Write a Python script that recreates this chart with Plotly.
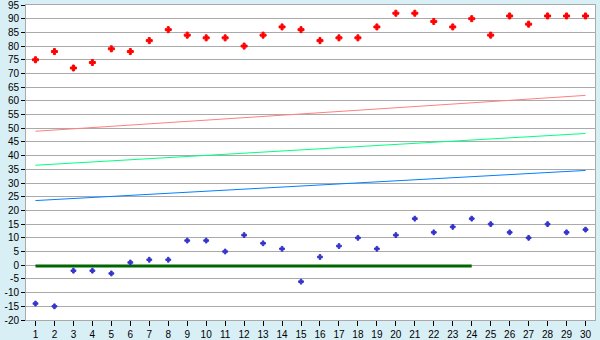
import plotly.graph_objects as go

x = list(range(1, 31))
red_vals = [75, 78, 72, 74, 79, 78, 82, 86, 84, 83, 83, 80, 84, 87, 86,
            82, 83, 83, 87, 92, 92, 89, 87, 90, 84, 91, 88, 91, 91, 91]
blue_vals = [-14, -15, -2, -2, -3, 1, 2, 2, 9, 9, 5, 11, 8, 6, -6,
             3, 7, 10, 6, 11, 17, 12, 14, 17, 15, 12, 10, 15, 12, 13]
red_trend_x = [1, 30]
red_trend = [48.9, 62.0]
green_trend_x = [1, 30]
green_trend = [36.5, 48.1]
blue_trend_x = [1, 30]
blue_trend = [23.6, 34.6]
zero_x = [1, 24]
zero_line = [-0.3, -0.3]
y_ticks = list(range(-20, 96, 5))

fig = go.Figure()
fig.add_trace(go.Scatter(x=red_trend_x, y=red_trend, mode="lines",
                         line=dict(color="#ff8080", width=1), showlegend=False))
fig.add_trace(go.Scatter(x=green_trend_x, y=green_trend, mode="lines",
                         line=dict(color="#00ff80", width=1), showlegend=False))
fig.add_trace(go.Scatter(x=blue_trend_x, y=blue_trend, mode="lines",
                         line=dict(color="#0080ff", width=1), showlegend=False))
fig.add_trace(go.Scatter(x=zero_x, y=zero_line, mode="lines",
                         line=dict(color="#006600", width=3), showlegend=False))
fig.add_trace(go.Scatter(x=x, y=red_vals, mode="markers",
                         marker=dict(symbol="cross", size=5, color="#ff0000",
                                     line=dict(width=1, color="#ff0000")),
                         showlegend=False))
fig.add_trace(go.Scatter(x=x, y=blue_vals, mode="markers",
                         marker=dict(symbol="cross", size=4, color="#3333cc",
                                     line=dict(width=1, color="#3333cc")),
                         showlegend=False))

fig.update_layout(
    template="none",
    width=600, height=340,
    margin=dict(l=26, r=5, t=5, b=20, pad=0),
    paper_bgcolor="#d9eff6",
    plot_bgcolor="#ffffff",
    font=dict(family="Liberation Sans, Arial, sans-serif", size=10, color="#000000"),
    xaxis=dict(range=[0.5, 30.5], tickmode="array", tickvals=x,
               ticktext=[str(v) for v in x], automargin=False,
               ticklabeloverflow="allow",
               showgrid=False, zeroline=False,
               showline=True, linecolor="#aaaaaa", linewidth=1, mirror=True,
               ticks="outside", ticklen=5, tickcolor="#000000", tickwidth=1),
    yaxis=dict(range=[-20, 95], tickmode="array", tickvals=y_ticks,
               ticktext=[str(v) for v in y_ticks], automargin=False,
               ticklabeloverflow="allow",
               showgrid=True, gridcolor="#aaaaaa", gridwidth=1, zeroline=False,
               showline=True, linecolor="#aaaaaa", linewidth=1, mirror=True,
               ticks="outside", ticklen=4, tickcolor="#000000", tickwidth=1),
)
fig.write_html("out.html")
